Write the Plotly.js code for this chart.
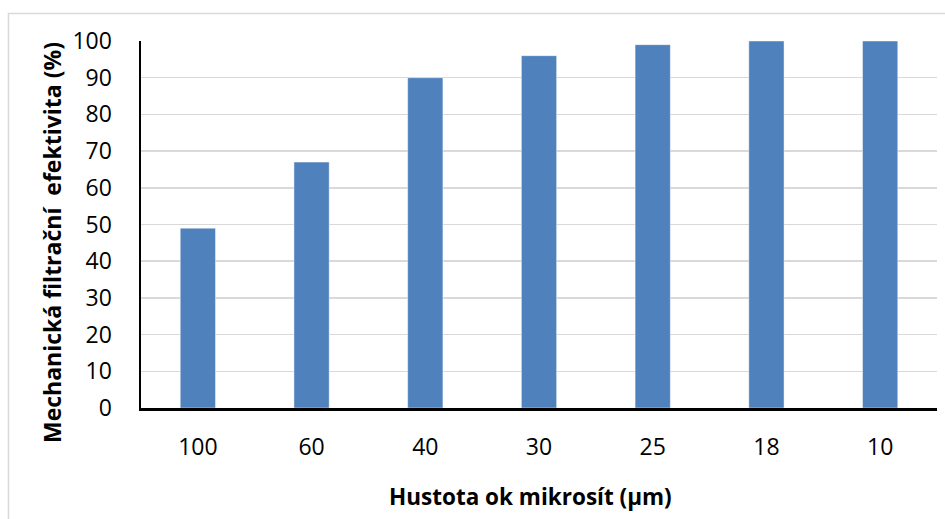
<!DOCTYPE html>
<html>
<head>
<meta charset="utf-8">
<script src="https://cdn.plot.ly/plotly-3.0.1.min.js"></script>
<style>
  html, body { margin: 0; padding: 0; background: #ffffff; }
  #chart { width: 945px; height: 519px; }
</style>
</head>
<body>
<div id="chart"></div>
<script>
// Mesh opening size of the microsieves (µm) and mechanical filtration efficiency (%)
const meshSizes = ['100', '60', '40', '30', '25', '18', '10'];
const efficiency = [49, 67, 90, 96, 99, 100, 100];
const yTicks = [0, 10, 20, 30, 40, 50, 60, 70, 80, 90, 100];

const xTitle = 'Hustota ok mikrosít (µm)';
const yTitle = 'Mechanická filtrační\u00a0 efektivita (%)';

const barTrace = {
  type: 'bar',
  x: meshSizes,
  y: efficiency,
  marker: {
    color: '#4F81BD',
    line: { color: 'rgba(255,255,255,0.45)', width: 1 }
  },
  hoverinfo: 'x+y'
};

const titleFont = { family: 'Open Sans, sans-serif', color: '#000000', weight: 'bold' };

const layout = {
  width: 945,
  height: 519,
  margin: { l: 141, r: 8, t: 41, b: 111 },
  paper_bgcolor: '#ffffff',
  plot_bgcolor: '#ffffff',
  bargap: 0.69,
  showlegend: false,
  font: { family: 'Open Sans, sans-serif', color: '#000000' },
  xaxis: {
    type: 'category',
    showline: true,
    linecolor: '#000000',
    linewidth: 2.5,
    ticks: '',
    showgrid: false,
    tickfont: { size: 23, color: '#000000' },
    ticklabelstandoff: 17
  },
  yaxis: {
    range: [0, 100],
    tickvals: yTicks,
    showline: true,
    linecolor: '#000000',
    linewidth: 2.5,
    ticks: '',
    zeroline: false,
    showgrid: true,
    gridcolor: '#d9d9d9',
    gridwidth: 1.5,
    tickfont: { size: 23, color: '#000000' },
    ticklabelstandoff: 22
  },
  annotations: [
    {
      text: xTitle,
      xref: 'paper', yref: 'paper',
      x: 0.4887, y: -0.2398,
      xanchor: 'center', yanchor: 'middle',
      showarrow: false,
      font: Object.assign({ size: 22.5 }, titleFont)
    },
    {
      text: yTitle,
      xref: 'paper', yref: 'paper',
      x: -0.1118, y: 0.4496,
      xanchor: 'center', yanchor: 'middle',
      textangle: -90,
      showarrow: false,
      font: Object.assign({ size: 23 }, titleFont)
    }
  ],
  shapes: [{
    type: 'rect',
    xref: 'paper', yref: 'paper',
    x0: -0.1665, x1: 1.2,
    y0: -0.5, y1: 1.0749,
    line: { color: '#d9d9d9', width: 1.5 },
    fillcolor: 'rgba(0,0,0,0)',
    layer: 'below'
  }]
};

Plotly.newPlot('chart', [barTrace], layout, { staticPlot: true, displayModeBar: false });
</script>
</body>
</html>
